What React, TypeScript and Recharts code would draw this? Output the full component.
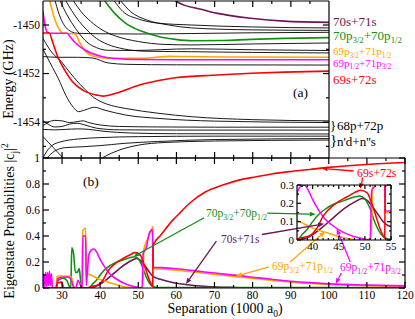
import React from "react";
import { LineChart, Line, XAxis, YAxis, ReferenceLine, ReferenceArea } from "recharts";

type P = [number, number][];

const SERIF = "'Times New Roman', 'Liberation Serif', Tinos, 'Nimbus Roman', 'Noto Serif', 'DejaVu Serif', serif";
const RED = "#ff0000";
const GREEN = "#109010";
const ORANGE = "#ffa500";
const MAGENTA = "#ff00ff";
const PURPLE = "#6e1558";

// ---- panel (a): pair energies (GHz) vs separation (1000 a0)
const e69s72s: P = [[25, -1450.33], [26.6, -1450.33], [27.6, -1450.74], [28.9, -1451.32], [30.7, -1451.86], [32.8, -1452.35], [35.4, -1452.68], [39.1, -1452.89], [40.7, -1452.93], [44.3, -1452.8], [50.3, -1452.47], [55, -1452.3], [59.7, -1452.17], [70.7, -1452.06], [79.6, -1451.99], [88.2, -1451.94], [100, -1451.9]];
const e69p12: P = [[25, -1449.45], [25.3, -1449.79], [25.7, -1450.15], [26.2, -1450.31], [27, -1450.34], [31.3, -1450.34], [32.2, -1450.5], [33.4, -1450.72], [36, -1451.03], [39.9, -1451.28], [43.8, -1451.38], [50, -1451.42], [60, -1451.43], [80, -1451.43], [100, -1451.43]];
const e69p32: P = [[26.8, -1449.01], [27.6, -1449.5], [28.9, -1450.08], [30.2, -1450.33], [33.4, -1450.37], [34.7, -1450.74], [36.5, -1451.15], [39.1, -1451.32], [42.5, -1451.37], [51, -1451.37], [58.2, -1451.29], [62, -1451.3], [75, -1451.32], [100, -1451.33]];
const e70p: P = [[41.2, -1449.01], [43.8, -1449.52], [46.7, -1449.93], [51.1, -1450.27], [55.5, -1450.48], [59.7, -1450.59], [64.2, -1450.65], [72, -1450.64], [79.6, -1450.59], [88.2, -1450.55], [100, -1450.52]];
const e70s71s: P = [[59.7, -1449.01], [62, -1449.18], [66.4, -1449.35], [70.8, -1449.52], [79.5, -1449.72], [88.2, -1449.84], [100, -1449.89]];

const blackLevels: P[] = [
  [[25, -1451.3], [29, -1451.33], [34, -1451.33], [38, -1451.36], [42, -1451.56], [47, -1451.62], [60, -1451.64], [100, -1451.65]],
  [[25, -1451.0], [26, -1451.3], [27.5, -1451.75], [29, -1452.2], [31, -1452.9], [33, -1453.4], [34.3, -1453.57], [36, -1453.5], [38.5, -1453.39], [41, -1453.5], [46.7, -1453.71], [55.4, -1453.85], [70, -1453.96], [100, -1454.02]],
  [[25, -1450.55], [26.5, -1450.95], [28, -1451.25], [29.3, -1451.42], [31, -1451.75], [33.7, -1452.27], [36, -1452.65], [38, -1452.95], [40.2, -1453.16], [43, -1453.32], [46.7, -1453.44], [55.4, -1453.64], [64.1, -1453.78], [80, -1453.9], [100, -1453.95]],
  [[28.2, -1449.01], [29, -1449.45], [30, -1449.85], [31, -1450.1], [32.5, -1450.28], [34, -1450.34], [40, -1450.36], [50, -1450.37], [64, -1450.35], [80, -1450.32], [100, -1450.3]],
  [[29.5, -1449.01], [31, -1449.5], [32.5, -1449.9], [34.5, -1450.35], [36.5, -1450.7], [39, -1450.93], [42, -1451.04], [48, -1451.05], [64, -1450.98], [80, -1451.02], [100, -1451.05]],
  [[31, -1449.01], [32.5, -1449.4], [34.5, -1449.85], [36.5, -1450.2], [39, -1450.55], [42, -1450.8], [46, -1450.98], [52, -1451.08], [64, -1451.1], [80, -1451.13], [100, -1451.15]],
  [[33, -1449.01], [35, -1449.45], [37.5, -1449.85], [40.5, -1450.2], [44, -1450.45], [50, -1450.68], [57, -1450.8], [64, -1450.82], [80, -1450.78], [100, -1450.74]],
  [[43.7, -1449.01], [46, -1449.45], [50, -1449.75], [55, -1449.92], [64, -1450.0], [80, -1450.08], [100, -1450.12]],
  [[45.4, -1449.01], [48, -1449.45], [52, -1449.78], [58, -1450.0], [64, -1450.12], [80, -1450.2], [100, -1450.22]],
  [[25, -1454.15], [26.5, -1454.0], [28, -1453.93], [30, -1453.95], [32, -1454.02], [34, -1453.98], [35.5, -1453.95], [37, -1454.02], [40, -1454.12], [45, -1454.18], [55, -1454.2], [70, -1454.21], [100, -1454.21]],
  [[25, -1453.95], [26.5, -1454.1], [28, -1454.2], [30, -1454.18], [32, -1454.08], [34, -1454.05], [36, -1454.12], [39, -1454.25], [45, -1454.32], [60, -1454.33], [100, -1454.33]],
  [[25, -1454.3], [28, -1454.32], [31, -1454.3], [34, -1454.28], [37, -1454.3], [41, -1454.38], [48, -1454.45], [60, -1454.48], [100, -1454.49]],
  [[25, -1454.6], [26.5, -1454.85], [28, -1455.1], [29.5, -1455.35], [30.3, -1455.48]],
  [[25, -1455.48], [26, -1455.2], [27.5, -1454.95], [30, -1454.8], [34, -1454.7], [40, -1454.64], [50, -1454.6], [70, -1454.58], [100, -1454.58]],
  [[26, -1455.48], [28, -1455.2], [31, -1455.05], [35, -1455.02], [40, -1454.97], [46, -1454.88], [55, -1454.8], [70, -1454.72], [100, -1454.68]],
  [[40.5, -1455.48], [43, -1455.28], [46, -1455.1], [50, -1454.95], [57, -1454.84], [70, -1454.78], [100, -1454.74]],
];

// ---- panel (b): eigenstate probabilities |c_j|^2
const p69s72s: P = [[25, 0], [28.5, 0], [28.8, 0.04], [30, 0.045], [30.4, 0], [36.6, 0], [37.5, 0.01], [39.5, 0.025], [40.8, 0.064], [42, 0.13], [44, 0.19], [46.6, 0.236], [48, 0.258], [49.1, 0.272], [50.4, 0.258], [51.3, 0.2], [52, 0.14], [52.8, 0.07], [53.3, 0.035], [53.8, 0.01], [53.9, 0.33], [56, 0.41], [59, 0.52], [61, 0.58], [63.4, 0.65], [67.7, 0.74], [72, 0.79], [76.4, 0.83], [81, 0.856], [85, 0.877], [89.5, 0.895], [95, 0.912], [100, 0.928], [110, 0.95], [120, 0.965]];
const p70p: P = [[25, 0], [28.4, 0], [28.7, 0.05], [29.5, 0.068], [30.3, 0.075], [31.2, 0.06], [31.8, 0.02], [32.3, 0], [32.55, 0.31], [33, 0.27], [33.5, 0.12], [34, 0.12], [34.5, 0.15], [34.8, 0.08], [35.2, 0], [37, 0], [38, 0.03], [39, 0.06], [40, 0.1], [41, 0.135], [42.5, 0.17], [44, 0.195], [46, 0.215], [48, 0.235], [49, 0.24], [50, 0.225], [51, 0.17], [52, 0.09], [53, 0.035], [54, 0.01], [55, 0.004], [120, 0.003]];
const p70s71s: P = [[25, 0], [37, 0], [38.5, 0.008], [39.5, 0.02], [41, 0.05], [42, 0.073], [43.5, 0.11], [45.3, 0.155], [47, 0.19], [48.5, 0.215], [49.5, 0.227], [50.5, 0.215], [51.5, 0.18], [52.5, 0.14], [53.5, 0.1], [54, 0.087], [56, 0.065], [59, 0.042], [63, 0.025], [68, 0.012], [75, 0.004], [80, 0.001], [90, 0], [120, 0]];
const p69p32: P = [[25, 0], [28.4, 0], [28.7, 0.09], [30, 0.092], [32, 0.09], [32.6, 0.07], [33.2, 0], [35.3, 0], [35.4, 0.44], [36.2, 0.46], [36.35, 0.11], [37, 0.105], [40, 0.065], [43, 0.037], [46, 0.012], [48, 0.003], [50, 0], [51.2, 0.01], [51.5, 0.3], [52.5, 0.38], [53.5, 0.45], [53.8, 0.47], [53.9, 0.15], [56, 0.146], [60, 0.137], [65, 0.121], [70, 0.105], [75, 0.089], [80, 0.074], [85, 0.059], [90, 0.045], [95, 0.035], [100, 0.027], [110, 0.018], [120, 0.012]];
const p69p12: P = [[25, 0.01], [25.2, 0.11], [25.45, 0.01], [25.7, 0.12], [25.95, 0.01], [26.2, 0.12], [26.45, 0.02], [26.7, 0.13], [26.95, 0.02], [27.2, 0.11], [27.5, 0], [28.5, 0], [28.9, 0.07], [29.5, 0.08], [31.5, 0.085], [32.3, 0.07], [33, 0.01], [33.6, 0], [34.2, 0.06], [34.7, 0.03], [35.3, 0], [35.45, 0.4], [36.2, 0.4], [36.35, 0.02], [36.6, 0.1], [37, 0.25], [37.6, 0.29], [38.4, 0.3], [39, 0.28], [40, 0.22], [41, 0.17], [42.5, 0.11], [44, 0.075], [46, 0.04], [48, 0.018], [50, 0.005], [51, 0], [51.3, 0.27], [52, 0.3], [53, 0.43], [53.7, 0.45], [53.9, 0.16], [56, 0.157], [60, 0.148], [65, 0.132], [70, 0.115], [75, 0.099], [80, 0.083], [85, 0.067], [90, 0.052], [95, 0.041], [100, 0.032], [110, 0.022], [120, 0.016]];

// ticks
const topXTicks = [30, 35, 40, 45, 50, 55, 60, 65, 70, 75, 80, 85, 90, 95];
const topXMajor = [30, 40, 50, 60, 70, 80, 90];
const topYTicks = [-1455, -1454, -1453, -1452, -1451, -1450];
const topYMajor = [-1454, -1452, -1450];
const botXTicks = [30, 35, 40, 45, 50, 55, 60, 65, 70, 75, 80, 85, 90, 95, 100, 105, 110, 115, 120];
const botXMajor = [30, 40, 50, 60, 70, 80, 90, 100, 110, 120];
const botYTicks = [0, 0.1, 0.2, 0.3, 0.4, 0.5, 0.6, 0.7, 0.8, 0.9, 1];
const botYMajor = [0, 0.2, 0.4, 0.6, 0.8, 1];
const insXTicks = [38, 39, 40, 41, 42, 43, 44, 45, 46, 47, 48, 49, 50, 51, 52, 53, 54, 55];
const insXMajor = [40, 45, 50, 55];
const insYTicks = [0, 0.05, 0.1, 0.15, 0.2, 0.25, 0.3];
const insYMajor = [0, 0.1, 0.2, 0.3];

const pts = (a: P) => a.map(([x, y]) => ({ x, y }));

type Side = "left" | "right" | "top" | "bottom";

function tickFn(side: Side, majors: number[], big: number, small: number, fs: number, showLabel: boolean) {
  return (props: any) => {
    const { x, y, payload } = props;
    const v = payload.value as number;
    const major = majors.some((m) => Math.abs(m - v) < 1e-6);
    const len = major ? big : small;
    let x2 = x, y2 = y;
    if (side === "left") x2 = x + len;
    if (side === "right") x2 = x - len;
    if (side === "bottom") y2 = y - len;
    if (side === "top") y2 = y + len;
    let label = null;
    if (showLabel && major) {
      const t = String(v);
      if (side === "left")
        label = <text x={x - 3} y={y} dy="0.33em" textAnchor="end" fontSize={fs} style={{ fontFamily: SERIF }} fill="#000">{t}</text>;
      if (side === "bottom")
        label = <text x={x} y={y + 2} dy="0.75em" textAnchor="middle" fontSize={fs} style={{ fontFamily: SERIF }} fill="#000">{t}</text>;
    }
    return (
      <g>
        <line x1={x} y1={y} x2={x2} y2={y2} stroke="#000" strokeWidth={1.2} />
        {label}
      </g>
    );
  };
}

function arrow(color: string) {
  return (props: any) => {
    const { x1, y1, x2, y2 } = props;
    const dx = x2 - x1, dy = y2 - y1;
    const L = Math.hypot(dx, dy) || 1;
    const ux = dx / L, uy = dy / L;
    const hl = 6, hw = 2.4;
    const bx = x2 - ux * hl, by = y2 - uy * hl;
    return (
      <g>
        <line x1={x1} y1={y1} x2={bx} y2={by} stroke={color} strokeWidth={1.3} />
        <polygon points={`${x2},${y2} ${bx - uy * hw},${by + ux * hw} ${bx + uy * hw},${by - ux * hw}`} fill={color} />
      </g>
    );
  };
}

type Part = [string, "n" | "sub" | "sup"];

function Rich({ x, y, parts, fs, color, anchor = "start", rot = false }: { x: number; y: number; parts: Part[]; fs: number; color: string; anchor?: string; rot?: boolean }) {
  let off = 0;
  const spans = parts.map(([t, k], i) => {
    const target = k === "sub" ? fs * 0.27 : k === "sup" ? -fs * 0.4 : 0;
    const dy = target - off;
    off = target;
    return (
      <tspan key={i} dy={dy} fontSize={k === "n" ? fs : fs * 0.68}>
        {t}
      </tspan>
    );
  });
  return (
    <text x={x} y={y} fill={color} fontSize={fs} style={{ fontFamily: SERIF }} textAnchor={anchor as any} transform={rot ? `rotate(-90 ${x} ${y})` : undefined}>
      {spans}
    </text>
  );
}

const lbl70p: Part[] = [["70p", "n"], ["3/2", "sub"], ["+70p", "n"], ["1/2", "sub"]];
const lbl69p32: Part[] = [["69p", "n"], ["3/2", "sub"], ["+71p", "n"], ["1/2", "sub"]];
const lbl69p12: Part[] = [["69p", "n"], ["1/2", "sub"], ["+71p", "n"], ["3/2", "sub"]];

const frame = { stroke: "#000", strokeWidth: 1.2 };

// axes are 1px thick so that recharts draws them; the chart margins account for that pixel
function axes(xT: number[], xM: number[], yT: number[], yM: number[], xDom: number[], yDom: number[], big: number, small: number, fs: number, xLabels: boolean) {
  return [
    <XAxis key="xb" xAxisId="b" orientation="bottom" type="number" dataKey="x" domain={xDom} allowDataOverflow ticks={xT} interval={0} height={1} tickSize={0} tickMargin={0} tickLine={false} axisLine={frame} tick={tickFn("bottom", xM, big, small, fs, xLabels)} />,
    <XAxis key="xt" xAxisId="t" orientation="top" type="number" dataKey="x" domain={xDom} allowDataOverflow ticks={xT} interval={0} height={1} tickSize={0} tickMargin={0} tickLine={false} axisLine={frame} tick={tickFn("top", xM, big, small, fs, false)} />,
    <YAxis key="yl" yAxisId="l" orientation="left" type="number" domain={yDom} allowDataOverflow ticks={yT} interval={0} width={1} tickSize={0} tickMargin={0} tickLine={false} axisLine={frame} tick={tickFn("left", yM, big, small, fs, true)} />,
    <YAxis key="yr" yAxisId="r" orientation="right" type="number" domain={yDom} allowDataOverflow ticks={yT} interval={0} width={1} tickSize={0} tickMargin={0} tickLine={false} axisLine={frame} tick={tickFn("right", yM, big, small, fs, false)} />,
  ];
}

function series(d: P, color: string, w: number, key: string) {
  return (
    <Line key={key} xAxisId="b" yAxisId="l" data={pts(d)} dataKey="y" type="monotone" stroke={color} strokeWidth={w} dot={false} isAnimationActive={false} />
  );
}

const probSeries = (w: number) => [
  series(p70s71s, PURPLE, w, "pu"),
  series(p70p, GREEN, w, "gr"),
  series(p69p32, ORANGE, w, "or"),
  series(p69p12, MAGENTA, w, "ma"),
  series(p69s72s, RED, w, "re"),
];

const layer: React.CSSProperties = { position: "absolute", left: 0, top: 0 };

export default function App() {
  return (
    <div style={{ position: "absolute", left: 0, top: 0, width: 415, height: 319, background: "#fff", overflow: "hidden" }}>
      <div style={layer}>
        <LineChart width={415} height={319} margin={{ top: 0, left: 42, right: 85, bottom: 160 }}>
          {axes(topXTicks, topXMajor, topYTicks, topYMajor, [25, 100], [-1455.48, -1449.01], 6, 3, 11.5, false)}
          {blackLevels.map((d, i) => series(d, "#000", 0.9, "k" + i))}
          {series(e70s71s, PURPLE, 1.6, "a1")}
          {series(e70p, GREEN, 1.6, "a2")}
          {series(e69p32, ORANGE, 1.6, "a3")}
          {series(e69p12, MAGENTA, 1.6, "a4")}
          {series(e69s72s, RED, 1.6, "a5")}
        </LineChart>
      </div>
      <div style={layer}>
        <LineChart width={415} height={319} margin={{ top: 157, left: 42, right: 9, bottom: 30 }}>
          {axes(botXTicks, botXMajor, botYTicks, botYMajor, [25, 120], [0, 1], 6, 3, 11.5, true)}
          {probSeries(1.6)}
          <ReferenceLine xAxisId="b" yAxisId="l" ifOverflow="visible" segment={[{ x: 106.5, y: 0.9 }, { x: 98.1, y: 0.921 }]} shape={arrow(RED)} />
          <ReferenceLine xAxisId="b" yAxisId="l" ifOverflow="visible" segment={[{ x: 67.3, y: 0.54 }, { x: 48.8, y: 0.243 }]} shape={arrow(GREEN)} />
          <ReferenceLine xAxisId="b" yAxisId="l" ifOverflow="visible" segment={[{ x: 70.5, y: 0.36 }, { x: 62.5, y: 0.03 }]} shape={arrow(PURPLE)} />
          <ReferenceLine xAxisId="b" yAxisId="l" ifOverflow="visible" segment={[{ x: 84.3, y: 0.162 }, { x: 75.6, y: 0.09 }]} shape={arrow(ORANGE)} />
          <ReferenceLine xAxisId="b" yAxisId="l" ifOverflow="visible" segment={[{ x: 103.3, y: 0.115 }, { x: 101.8, y: 0.03 }]} shape={arrow(MAGENTA)} />
        </LineChart>
      </div>
      <div style={layer}>
        <LineChart width={415} height={319} margin={{ top: 184, left: 296, right: 23, bottom: 78 }}>
          <ReferenceArea xAxisId="b" yAxisId="l" x1={37} x2={55} y1={0} y2={0.3} fill="#fff" fillOpacity={1} stroke="none" />
          {axes(insXTicks, insXMajor, insYTicks, insYMajor, [37, 55], [0, 0.3], 4, 2, 11, true)}
          {probSeries(1.5)}
          <ReferenceLine xAxisId="b" yAxisId="l" ifOverflow="visible" segment={[{ x: 49.6, y: 0.34 }, { x: 49.1, y: 0.278 }]} shape={arrow(RED)} />
          <ReferenceLine xAxisId="b" yAxisId="l" ifOverflow="visible" segment={[{ x: 31.3, y: 0.147 }, { x: 40.6, y: 0.14 }]} shape={arrow(GREEN)} />
          <ReferenceLine xAxisId="b" yAxisId="l" ifOverflow="visible" segment={[{ x: 30.3, y: 0.03 }, { x: 42.2, y: 0.088 }]} shape={arrow(PURPLE)} />
          <ReferenceLine xAxisId="b" yAxisId="l" ifOverflow="visible" segment={[{ x: 35.7, y: -0.12 }, { x: 42.4, y: 0.047 }]} shape={arrow(ORANGE)} />
          <ReferenceLine xAxisId="b" yAxisId="l" ifOverflow="visible" segment={[{ x: 47.2, y: -0.12 }, { x: 44.6, y: 0.062 }]} shape={arrow(MAGENTA)} />
        </LineChart>
      </div>
      <svg width={415} height={319} style={{ ...layer, pointerEvents: "none" }}>
        <Rich x={13} y={79} parts={[["Energy (GHz)", "n"]]} fs={14} color="#000" anchor="middle" rot />
        <Rich x={14} y={221} parts={[["Eigenstate Probabilities |c", "n"], ["j", "sub"], ["|", "n"], ["2", "sup"]]} fs={14} color="#000" anchor="middle" rot />
        <Rich x={225} y={313} parts={[["Separation (1000 a", "n"], ["0", "sub"], [")", "n"]]} fs={14} color="#000" anchor="middle" />

        <Rich x={333} y={26} parts={[["70s+71s", "n"]]} fs={13} color={PURPLE} />
        <Rich x={333} y={39.5} parts={lbl70p} fs={13} color={GREEN} />
        <Rich x={333} y={55} parts={lbl69p32} fs={11} color={ORANGE} />
        <Rich x={333} y={66.5} parts={lbl69p12} fs={11} color={MAGENTA} />
        <Rich x={333} y={83.5} parts={[["69s+72s", "n"]]} fs={13} color={RED} />
        <Rich x={293} y={97} parts={[["(a)", "n"]]} fs={13.5} color="#000" />
        <Rich x={330} y={130} parts={[["}", "n"]]} fs={13} color="#000" />
        <Rich x={337} y={130} parts={[["68p+72p", "n"]]} fs={13} color="#000" />
        <Rich x={330} y={145} parts={[["}", "n"]]} fs={15} color="#000" />
        <Rich x={337} y={146} parts={[["n'd+n''s", "n"]]} fs={13} color="#000" />

        <Rich x={83} y={186} parts={[["(b)", "n"]]} fs={13.5} color="#000" />
        <Rich x={357} y={177} parts={[["69s+72s", "n"]]} fs={11.8} color={RED} />
        <Rich x={206} y={217} parts={lbl70p} fs={11.5} color={GREEN} />
        <Rich x={221} y={243} parts={[["70s+71s", "n"]]} fs={11.5} color={PURPLE} />
        <Rich x={272} y={270} parts={lbl69p32} fs={11.5} color={ORANGE} />
        <Rich x={340} y={271} parts={lbl69p12} fs={11.5} color={MAGENTA} />
      </svg>
    </div>
  );
}
